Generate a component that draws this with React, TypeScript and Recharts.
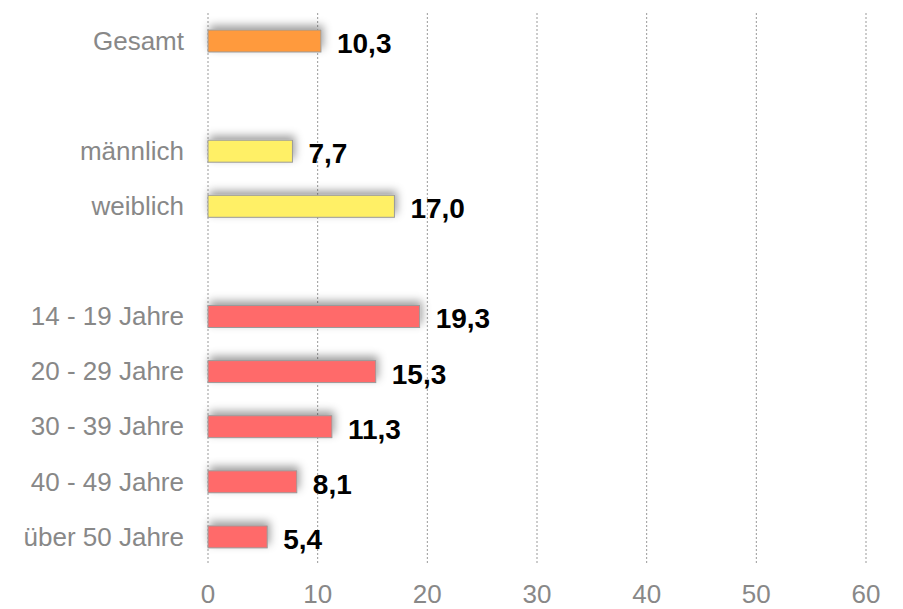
import React from 'react';
import { BarChart, Bar, XAxis, YAxis, CartesianGrid, LabelList, Cell } from 'recharts';

const categories = ['Gesamt', ' ', 'männlich', 'weiblich', '  ', '14 - 19 Jahre', '20 - 29 Jahre', '30 - 39 Jahre', '40 - 49 Jahre', 'über 50 Jahre'];
const values: (number | null)[] = [10.3, null, 7.7, 17.0, null, 19.3, 15.3, 11.3, 8.1, 5.4];
const groups = ['total', 'none', 'gender', 'gender', 'none', 'age', 'age', 'age', 'age', 'age'];
const xTicks = [0, 10, 20, 30, 40, 50, 60];

const groupColors: Record<string, string> = {
  total: '#FF9A3C',
  gender: '#FFF066',
  age: '#FF6B6B',
  none: '#FFFFFF',
};

const data = categories.map((name, i) => ({ name, value: values[i], group: groups[i] }));

const ShadowBar = (props: any) => {
  const { x, y, width, height, fill } = props;
  if (width == null || !isFinite(width) || width <= 0) return null;
  return (
    <rect
      x={x}
      y={y}
      width={width}
      height={height}
      fill={fill}
      stroke="#9a9a9a"
      strokeWidth={1}
      filter="url(#barShadow)"
    />
  );
};

const fmt = (v: any) => (v == null ? '' : Number(v).toFixed(1).replace('.', ','));

export default function App() {
  return (
    <div style={{ position: 'absolute', left: 0, top: 0, width: 903, height: 609, background: '#fff' }}>
      <BarChart
        width={903}
        height={609}
        data={data}
        layout="vertical"
        margin={{ top: 13, right: 37, bottom: 15, left: 0 }}
        barCategoryGap={0}
      >
        <defs>
          <filter id="barShadow" x="-20%" y="-100%" width="140%" height="300%">
            <feDropShadow dx={2} dy={-4} stdDeviation={4} floodColor="#000" floodOpacity={0.38} />
          </filter>
        </defs>
        <CartesianGrid horizontal={false} stroke="#999" strokeDasharray="2 2" />
        <XAxis
          type="number"
          domain={[0, 60]}
          ticks={xTicks}
          height={30}
          axisLine={false}
          tickLine={false}
          tickSize={0}
          tickMargin={21}
          tick={{ fill: '#888', fontSize: 26, fontFamily: 'Liberation Sans, Arial, sans-serif' }}
        />
        <YAxis
          type="category"
          dataKey="name"
          width={208}
          axisLine={false}
          tickLine={false}
          tickSize={0}
          tickMargin={24}
          interval={0}
          tick={{ fill: '#888', fontSize: 26, fontFamily: 'Liberation Sans, Arial, sans-serif' }}
        />
        <Bar dataKey="value" barSize={22} isAnimationActive={false} shape={<ShadowBar />}>
          {data.map((d, i) => (
            <Cell key={i} fill={groupColors[d.group]} />
          ))}
          <LabelList
            dataKey="value"
            position="right"
            offset={16}
            formatter={fmt}
            dy={2}
            style={{ fill: '#000', fontSize: 28, fontWeight: 'bold', fontFamily: 'Liberation Sans, Arial, sans-serif' }}
          />
        </Bar>
      </BarChart>
    </div>
  );
}
